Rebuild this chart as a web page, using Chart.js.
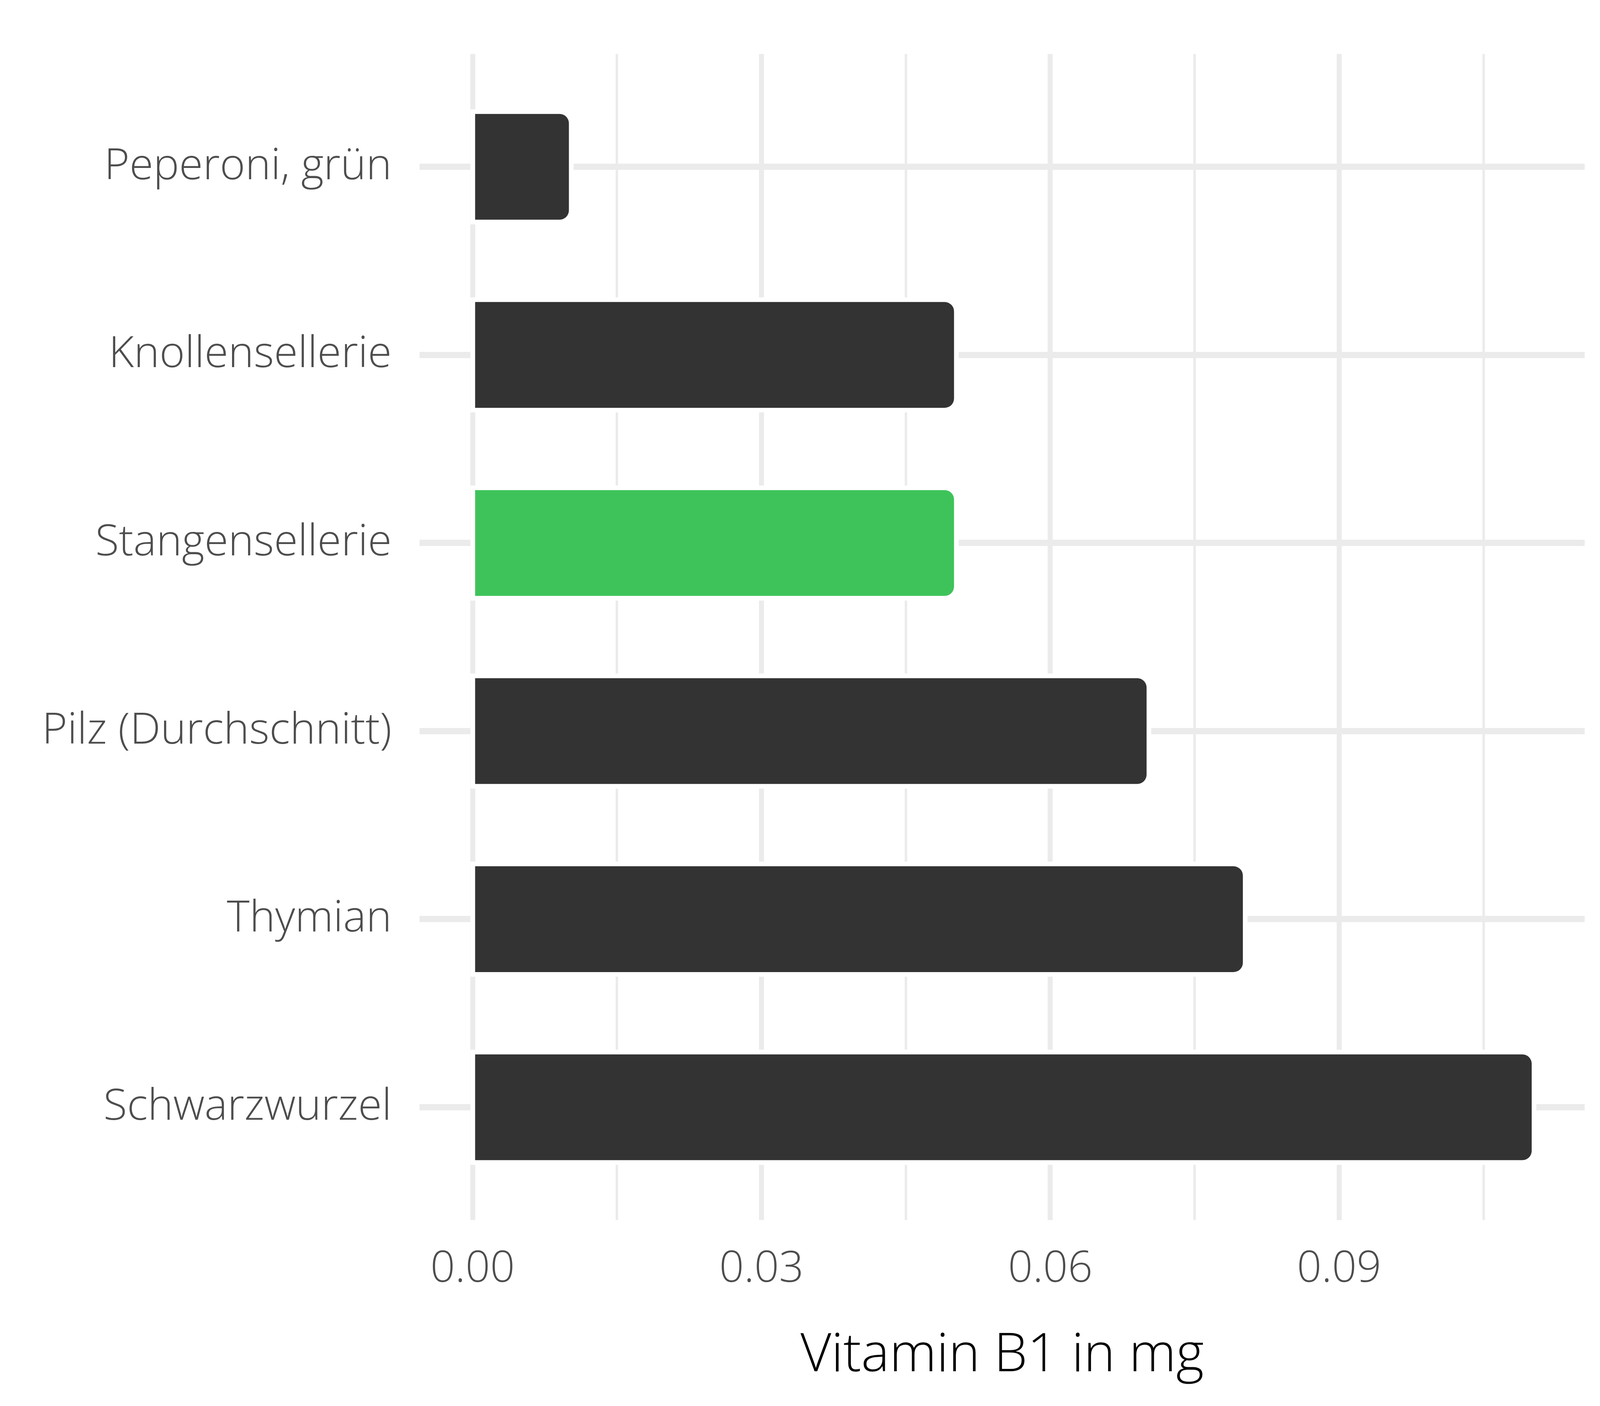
<!DOCTYPE html>
<html>
<head>
<meta charset="utf-8">
<script src="https://cdn.jsdelivr.net/npm/chart.js@4/dist/chart.umd.min.js"></script>
<style>
 html,body{margin:0;padding:0;background:#fff;overflow:hidden;}
 canvas{display:block;}
</style>
</head>
<body>
<canvas id="chart"></canvas>
<script>
// data
const categories = ["Peperoni, grün","Knollensellerie","Stangensellerie","Pilz (Durchschnitt)","Thymian","Schwarzwurzel"];
const values = [0.01,0.05,0.05,0.07,0.08,0.11];
const barColors = ["#333333","#333333","#3ec35a","#333333","#333333","#333333"];

const xTickValues = [0,0.015,0.03,0.045,0.06,0.075,0.09,0.105];
const xTickLabels = ["0.00","","0.03","","0.06","","0.09",""];

const points = values.map((v,i)=>({x:v,y:i}));

// sizes below are for a 4800x3600 picture, scaled to the real window
const W = window.innerWidth, H = window.innerHeight;
const SX = W/4800, SY = H/3600;
const px = v => v*SX;
const py = v => v*SY;

const canvas = document.getElementById("chart");
canvas.style.width = W+"px";
canvas.style.height = H+"px";
canvas.width = W;
canvas.height = H;

const FONT = "'Open Sans', 'DejaVu Sans', sans-serif";

new Chart(canvas.getContext("2d"),{
 type:"bar",
 data:{
  datasets:[
   {
    // main bars
    data:points,
    backgroundColor:barColors,
    borderWidth:0,
    borderRadius:px(28),
    borderSkipped:"start",
    barPercentage:0.5624,
    categoryPercentage:1,
    inflateAmount:0,
    order:1
   },
   {
    // white halo that cuts the grid round each bar
    data:points,
    backgroundColor:"#ffffff",
    borderWidth:0,
    borderRadius:px(34),
    borderSkipped:"start",
    barPercentage:0.5624,
    categoryPercentage:1,
    inflateAmount:px(14),
    order:2
   }
  ]
 },
 options:{
  indexAxis:"y",
  responsive:false,
  animation:false,
  layout:{padding:{top:py(93),right:px(46),bottom:0,left:0}},
  datasets:{bar:{grouped:false}},
  plugins:{legend:{display:false},tooltip:{enabled:false}},
  scales:{
   x:{
    type:"linear",
    min:-0.0055,
    max:0.1155,
    afterBuildTicks:s=>{ s.ticks = xTickValues.map(v=>({value:v})); },
    afterFit:s=>{ s.height = py(476); },
    border:{display:false},
    grid:{
     color:"#ebebeb",
     lineWidth:c=>xTickLabels[c.index] ? px(15) : px(7.5),
     drawTicks:false
    },
    ticks:{
     autoSkip:false,
     maxRotation:0,
     padding:py(60),
     color:"#4d4d4d",
     font:{family:FONT,size:px(130),weight:300},
     callback:(v,i)=>xTickLabels[i]
    },
    title:{
     display:true,
     text:"Vitamin B1 in mg",
     color:"#000000",
     font:{family:FONT,size:px(160),weight:300},
     padding:{top:0,bottom:py(46)}
    }
   },
   y:{
    type:"linear",
    reverse:true,
    offset:false,
    min:-0.6,
    max:5.6,
    afterBuildTicks:s=>{ s.ticks = categories.map((c,i)=>({value:i})); },
    afterFit:s=>{ s.width = px(1259); },
    border:{display:false},
    grid:{color:"#ebebeb",lineWidth:py(16),drawTicks:false,offset:false},
    ticks:{
     autoSkip:false,
     padding:px(84),
     color:"#4d4d4d",
     font:{family:FONT,size:px(130),weight:300},
     callback:v=>categories[v]
    }
   }
  }
 }
});
</script>
</body>
</html>
